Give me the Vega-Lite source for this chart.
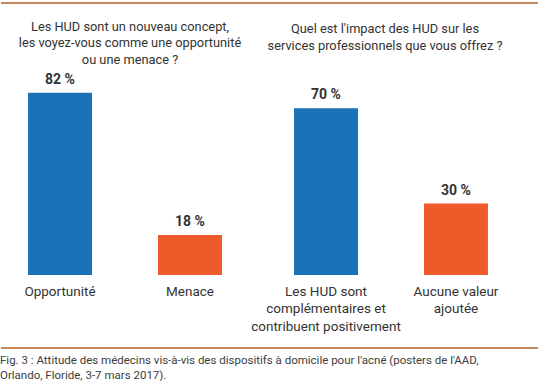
{
  "$schema": "https://vega.github.io/schema/vega-lite/v6.json",
  "padding": {"top": 2, "left": 0, "right": 0, "bottom": 0},
  "background": "white",
  "spacing": 14,
  "config": {
    "view": {"stroke": null},
    "font": "Roboto",
    "title": {"font": "Roboto", "fontSize": 12.8, "fontWeight": "normal", "color": "#333333", "lineHeight": 16.5, "offset": 6},
    "axis": {"labelFont": "Roboto"}
  },
  "datasets": {
    "q1": [
      {"reponse": "Opportunité", "valeur": 82, "groupe": "favorable"},
      {"reponse": "Menace", "valeur": 18, "groupe": "défavorable"}
    ],
    "q2": [
      {"reponse": "Les HUD sont complémentaires et contribuent positivement", "valeur": 70, "groupe": "favorable"},
      {"reponse": "Aucune valeur ajoutée", "valeur": 30, "groupe": "défavorable"}
    ]
  },
  "vconcat": [
    {
      "width": 538,
      "height": 3,
      "data": {"values": [{}]},
      "mark": {"type": "rule", "color": "#c8875a", "strokeWidth": 2},
      "encoding": {"y": {"datum": 1, "type": "quantitative", "axis": null, "scale": {"domain": [0, 1]}}}
    },
    {
      "spacing": 18,
      "bounds": "flush",
      "hconcat": [
        {
          "width": 248,
          "height": 200,
          "title": {"text": ["Les HUD sont un nouveau concept,", "les voyez-vous comme une opportunité", "ou une menace ?"], "dx": 5},
          "data": {"name": "q1"},
          "transform": [{"calculate": "datum.valeur + ' %'", "as": "etiquette"}],
          "encoding": {
            "x": {
              "field": "reponse", "type": "nominal", "sort": null, "title": null,
              "scale": {"paddingInner": 0.508, "paddingOuter": 0.208},
              "axis": {"labelAngle": 0, "ticks": false, "domain": false, "labelPadding": 9, "labelFontSize": 13.5, "labelColor": "#333333", "labelLineHeight": 17.5}
            },
            "y": {"field": "valeur", "type": "quantitative", "scale": {"domain": [0, 90]}, "axis": null}
          },
          "layer": [
            {
              "mark": {"type": "bar"},
              "encoding": {
                "color": {"field": "groupe", "type": "nominal", "legend": null, "scale": {"domain": ["favorable", "défavorable"], "range": ["#1a72b8", "#ef5a2a"]}}
              }
            },
            {
              "mark": {"type": "text", "baseline": "alphabetic", "dy": -9, "fontWeight": "bold", "fontSize": 14, "color": "#333333"},
              "encoding": {"text": {"field": "etiquette"}}
            }
          ]
        },
        {
          "width": 248,
          "height": 200,
          "title": {"text": ["Quel est l'impact des HUD sur les", "services professionnels que vous offrez ?", ""], "dx": -6},
          "data": {"name": "q2"},
          "transform": [{"calculate": "datum.valeur + ' %'", "as": "etiquette"}],
          "encoding": {
            "x": {
              "field": "reponse", "type": "nominal", "sort": null, "title": null,
              "scale": {"paddingInner": 0.508, "paddingOuter": 0.208},
              "axis": {
                "labelAngle": 0, "ticks": false, "domain": false, "labelPadding": 9, "labelFontSize": 13.5, "labelColor": "#333333", "labelLineHeight": 17.5,
                "labelExpr": "datum.value == 'Aucune valeur ajoutée' ? ['Aucune valeur', 'ajoutée'] : ['Les HUD sont', 'complémentaires et', 'contribuent positivement']"
              }
            },
            "y": {"field": "valeur", "type": "quantitative", "scale": {"domain": [0, 84]}, "axis": null}
          },
          "layer": [
            {
              "mark": {"type": "bar"},
              "encoding": {
                "color": {"field": "groupe", "type": "nominal", "legend": null, "scale": {"domain": ["favorable", "défavorable"], "range": ["#1a72b8", "#ef5a2a"]}}
              }
            },
            {
              "mark": {"type": "text", "baseline": "alphabetic", "dy": -9, "fontWeight": "bold", "fontSize": 14, "color": "#333333"},
              "encoding": {"text": {"field": "etiquette"}}
            }
          ]
        }
      ]
    },
    {
      "width": 538,
      "height": 1,
      "data": {"values": [{}]},
      "mark": {"type": "rule", "color": "#c8875a", "strokeWidth": 2},
      "encoding": {"y": {"datum": 1, "type": "quantitative", "axis": null, "scale": {"domain": [0, 1]}}},
      "title": {
        "text": ["Fig. 3 : Attitude des médecins vis-à-vis des dispositifs à domicile pour l'acné (posters de l'AAD,", "Orlando, Floride, 3-7 mars 2017)."],
        "orient": "bottom", "anchor": "start", "fontSize": 11.5, "lineHeight": 14.5, "color": "#3d3d3d", "offset": 6
      }
    }
  ]
}
